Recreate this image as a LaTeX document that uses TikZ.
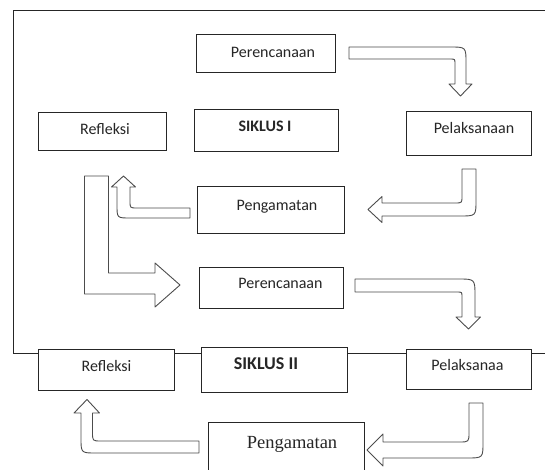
\documentclass[tikz,border=0pt]{standalone}
\usepackage{fontspec}
\setmainfont{Carlito}
\newfontfamily\serifteks{Liberation Serif}

\begin{document}
\begin{tikzpicture}[x=1pt,y=-1pt]
  \tikzstyle{kotak}=[draw=black!85, line width=1pt, fill=white, inner sep=0pt]
  \tikzstyle{teks}=[inner sep=0pt, font=\fontsize{16}{18}\selectfont, text=black!85, text height=11pt, text depth=0pt]
  \tikzstyle{panah}=[draw=black!70, line width=0.9pt, fill=white, line join=round]

  \useasboundingbox (0,0) rectangle (545,470);
  \clip (0,0) rectangle (545,470);

  % Bingkai siklus I
  \draw[line width=1pt, black!85] (550,11) -- (13,11) -- (13,353) -- (550,353);

  % Siklus I
  \node[kotak, minimum width=139pt, minimum height=38pt] (pr1) at (265.5,54) {};
  \node[kotak, minimum width=128pt, minimum height=38pt] (rf1) at (102,132) {};
  \node[kotak, minimum width=144pt, minimum height=42pt] (sk1) at (266,131) {};
  \node[kotak, minimum width=125pt, minimum height=44pt] (pl1) at (468.5,134) {};
  \node[kotak, minimum width=147pt, minimum height=46pt] (pg1) at (270.5,210) {};

  \node[teks] (tpr1) at (273,52) {Perencanaan};
  \node[teks] (trf1) at (105,129) {Refleksi};
  \node[teks, font=\bfseries\fontsize{16}{18}\selectfont] (tsk1) at (265,126) {SIKLUS I};
  \node[teks] (tpl1) at (474,128) {Pelaksanaan};
  \node[teks] (tpg1) at (277,205) {Pengamatan};

  % Panah siklus I
  \draw[panah] (349,47) -- (450,47) .. controls (466,47) .. (466,63) -- (466,84)
    -- (472,84) -- (460.5,96) -- (449,84) -- (455,84) -- (455,64)
    .. controls (455,59) .. (450,59) -- (349,59) -- cycle;
  \draw[panah] (462,169) -- (476,169) -- (476,200) .. controls (476,216) .. (460,216)
    -- (382,216) -- (382,222.5) -- (368,209.5) -- (382,196.5) -- (382,203)
    -- (455,203) .. controls (462,203) .. (462,196) -- cycle;
  \draw[panah] (190,208) -- (137,208) .. controls (130,208) .. (130,201) -- (130,187)
    -- (135.5,187) -- (123.5,176) -- (111.5,187) -- (117,187) -- (117,205)
    .. controls (117,218) .. (130,218) -- (190,218) -- cycle;
  \draw[panah] (84.5,176) -- (108.5,176) -- (108.5,273) -- (155,273) -- (155,263)
    -- (180,285) -- (155,307) -- (155,294) -- (84.5,294) -- cycle;

  % Siklus II
  \node[kotak, minimum width=144pt, minimum height=41pt] (pr2) at (271,287.5) {};
  \node[kotak, minimum width=136pt, minimum height=41pt] (rf2) at (106,369.5) {};
  \node[kotak, minimum width=146pt, minimum height=45pt] (sk2) at (274,369.5) {};
  \node[kotak, minimum width=125pt, minimum height=40pt] (pl2) at (468.5,369) {};
  \node[kotak, minimum width=156pt, minimum height=60pt] (pg2) at (286,452) {};

  \node[teks] (tpr2) at (280.5,283) {Perencanaan};
  \node[teks] (trf2) at (106.5,366) {Refleksi};
  \node[teks, font=\bfseries\fontsize{18}{20}\selectfont, text height=12.5pt] (tsk2) at (266,363) {SIKLUS II};
  \node[teks] (tpl2) at (467.5,365) {Pelaksanaa};
  \node[teks, font=\serifteks\fontsize{18.5}{20}\selectfont, text height=12pt] (tpg2) at (292,442) {Pengamatan};

  % Panah siklus II
  \draw[panah] (355,279) -- (458,279) .. controls (475,279) .. (475,296) -- (475,317)
    -- (480.5,317) -- (468.5,329) -- (456,317) -- (462,317) -- (462,297)
    .. controls (462,292) .. (457,292) -- (355,292) -- cycle;
  \draw[panah] (469,403) -- (483,403) -- (483,442) .. controls (483,458) .. (467,458)
    -- (383,458) -- (383,466) -- (367,450) -- (383,434) -- (383,442)
    -- (459,442) .. controls (469,442) .. (469,432) -- cycle;
  \draw[panah] (199,441) -- (101,441) .. controls (92.5,441) .. (92.5,432) -- (92.5,413)
    -- (99.5,413) -- (87,399.5) -- (74,413) -- (81,413) -- (81,438)
    .. controls (81,453) .. (96,453) -- (199,453) -- cycle;
\end{tikzpicture}
\end{document}
